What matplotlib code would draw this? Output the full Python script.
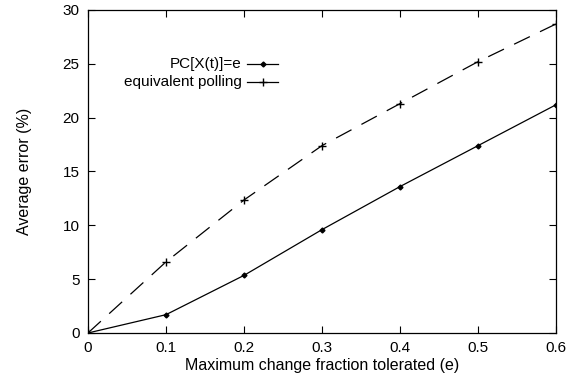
import matplotlib
matplotlib.use("Agg")
import matplotlib.pyplot as plt

plt.rcParams['font.family'] = ['Liberation Sans', 'DejaVu Sans']

# values
e_tol = [0, 0.1, 0.2, 0.3, 0.4, 0.5, 0.6]
pc_error = [0, 1.7, 5.35, 9.6, 13.6, 17.4, 21.2]
polling_error = [0, 6.6, 12.35, 17.4, 21.3, 25.2, 28.7]
x_ticks = [0, 0.1, 0.2, 0.3, 0.4, 0.5, 0.6]
x_labels = ['0', '0.1', '0.2', '0.3', '0.4', '0.5', '0.6']
y_ticks = [0, 5, 10, 15, 20, 25, 30]

fig = plt.figure(figsize=(5.71, 3.81), dpi=100)
ax = fig.add_axes([0.154, 0.126, 0.82, 0.848])

ax.plot(e_tol, pc_error, color='black', lw=0.9, marker='D', ms=2.5)
ax.plot(e_tol, polling_error, color='black', lw=0.9, marker='+', ms=6,
        dashes=(14, 9))
# dashed zero axis like gnuplot's xzeroaxis
ax.axhline(0, color='black', lw=0.6, dashes=(3, 5))

ax.set_xlim(0, 0.6)
ax.set_ylim(0, 30)
ax.set_xticks(x_ticks, x_labels)
ax.set_yticks(y_ticks)
ax.tick_params(direction='in', top=True, right=True, length=5, width=0.8,
               labelsize=11, pad=6)
for s in ax.spines.values():
    s.set_linewidth(0.9)

ax.set_xlabel('Maximum change fraction tolerated (e)', fontsize=11.5, labelpad=2)
ax.set_ylabel('Average error (%)', fontsize=11.5, labelpad=22)

# gnuplot-style key: text right-aligned, sample on the right
key = [('PC[X(t)]=e', dict(marker='D', ms=2.5)),
       ('equivalent polling', dict(marker='+', ms=6))]
for i, (label, style) in enumerate(key):
    yk = 0.833 - i * 0.056
    ax.text(0.329, yk, label, transform=ax.transAxes, ha='right', va='center',
            fontsize=11)
    ax.plot([0.340, 0.406], [yk, yk], transform=ax.transAxes, color='black',
            lw=0.9, clip_on=False)
    ax.plot([0.373], [yk], transform=ax.transAxes, color='black', ls='none',
            **style)

fig.savefig('out.png', dpi=100)
